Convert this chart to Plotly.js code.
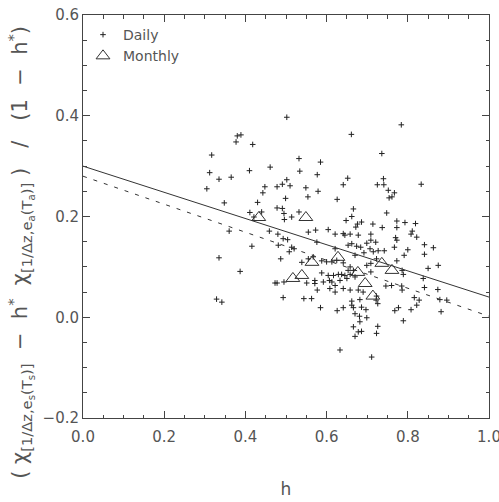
<!DOCTYPE html>
<html>
<head>
<meta charset="utf-8">
<script src="https://cdn.plot.ly/plotly-3.0.1.min.js"></script>
<style>html,body{margin:0;padding:0;background:#fff;}#chart{width:499px;height:502px;}</style>
</head>
<body>
<div id="chart"></div>
<script>
// Daily values (h, y)
const dailyH = [
0.502,0.380,0.389,0.377,0.418,0.317,0.532,0.585,0.312,0.410,0.461,0.534,0.577,0.335,0.365,0.502,0.491,0.478,0.448,0.510,
0.549,0.305,0.579,0.443,0.554,0.499,0.348,0.430,0.478,0.491,
0.784,0.661,0.736,0.652,0.740,0.641,0.725,0.741,0.833,0.752,0.767,0.626,0.754,0.761,0.666,
0.411,0.440,0.495,0.421,0.496,0.514,0.532,0.360,0.459,0.480,0.493,0.504,0.416,0.481,0.514,0.520,0.508,0.335,0.487,0.387,
0.473,0.478,0.495,0.329,0.342,0.493,
0.662,0.648,0.686,0.676,0.714,0.672,0.604,0.573,0.555,0.641,0.645,0.658,0.621,0.678,0.709,0.709,0.699,0.662,0.653,0.674,
0.684,0.576,0.707,0.621,0.692,0.670,0.715,0.567,0.555,0.588,0.600,0.613,0.625,0.539,0.641,0.658,0.666,0.653,0.699,0.709,
0.588,0.604,0.617,0.629,0.637,0.645,0.658,0.670,0.709,0.607,0.592,0.571,0.613,0.633,0.650,0.621,0.571,0.551,0.608,0.641,
0.658,0.577,0.621,0.678,0.690,0.544,0.563,0.662,0.682,0.662,0.666,0.641,0.686,0.697,0.585,0.626,0.670,0.699,0.681,0.682,
0.666,0.678,0.670,0.686,0.633,0.711,
0.748,0.773,0.793,0.819,0.737,0.773,0.811,0.808,0.822,0.770,0.773,0.721,0.841,0.863,0.767,0.800,0.727,0.742,0.841,0.791,
0.773,0.723,0.875,0.850,0.786,0.789,0.838,0.746,0.760,0.785,0.786,0.841,0.874,0.723,0.722,0.726,0.816,0.828,0.879,0.896,
0.777,0.768,0.808,0.822,0.882,0.789,0.726,0.723
];
const dailyY = [
0.397,0.360,0.362,0.348,0.343,0.322,0.315,0.308,0.287,0.291,0.298,0.290,0.283,0.274,0.278,0.273,0.264,0.259,0.259,0.261,
0.257,0.255,0.250,0.247,0.239,0.236,0.227,0.228,0.217,0.216,
0.382,0.363,0.325,0.276,0.275,0.263,0.263,0.263,0.264,0.252,0.247,0.234,0.237,0.239,0.215,
0.208,0.209,0.206,0.199,0.194,0.199,0.209,0.171,0.171,0.165,0.156,0.154,0.141,0.143,0.139,0.136,0.130,0.118,0.116,0.091,
0.068,0.068,0.070,0.036,0.030,0.039,
0.200,0.192,0.189,0.185,0.185,0.179,0.174,0.173,0.169,0.166,0.163,0.165,0.165,0.163,0.165,0.153,0.147,0.146,0.143,0.141,
0.139,0.149,0.136,0.136,0.128,0.123,0.130,0.120,0.116,0.112,0.110,0.110,0.113,0.109,0.108,0.100,0.093,0.093,0.103,0.107,
0.088,0.083,0.083,0.085,0.085,0.083,0.085,0.080,0.090,0.073,0.070,0.073,0.070,0.073,0.077,0.063,0.067,0.068,0.057,0.057,
0.054,0.054,0.050,0.054,0.050,0.037,0.037,0.032,0.035,0.024,0.019,0.019,0.020,0.015,0.019,0.013,0.007,-0.001,0.002,-0.009,
-0.019,-0.029,-0.038,-0.028,-0.065,-0.079,
0.207,0.191,0.188,0.186,0.178,0.178,0.171,0.165,0.159,0.158,0.153,0.149,0.144,0.138,0.139,0.134,0.132,0.132,0.125,0.123,
0.112,0.116,0.103,0.097,0.093,0.085,0.077,0.062,0.063,0.062,0.054,0.059,0.055,0.042,0.034,0.027,0.039,0.034,0.035,0.034,
0.019,0.013,0.015,0.024,0.011,-0.007,-0.018,-0.032
];
// Monthly values
const monthlyH = [0.433,0.549,0.517,0.539,0.564,0.628,0.677,0.695,0.714,0.736,0.761];
const monthlyY = [0.198,0.198,0.077,0.083,0.109,0.119,0.089,0.067,0.042,0.107,0.093];
// Fit lines
const fitH = [0.0, 1.0];
const fitSolidY = [0.300, 0.040];
const fitDashedY = [0.280, 0.002];
// Tick labels
const xTicks = [0.0, 0.2, 0.4, 0.6, 0.8, 1.0];
const xTickText = ['0.0', '0.2', '0.4', '0.6', '0.8', '1.0'];
const yTicks = [-0.2, 0.0, 0.2, 0.4, 0.6];
const yTickText = ['\u22120.2', '0.0', '0.2', '0.4', '0.6'];

const ink = '#222';
const axisCol = '#444';
const textCol = '#555';
const fontFam = 'DejaVu Sans, sans-serif';

const traces = [
  {x: dailyH, y: dailyY, type: 'scatter', mode: 'markers', name: 'Daily',
   marker: {symbol: 'cross-thin', size: 4, color: ink, line: {width: 1, color: ink}}},
  {x: monthlyH, y: monthlyY, type: 'scatter', mode: 'markers', name: 'Monthly',
   marker: {symbol: 'triangle-up-open', size: 12, color: '#333', line: {width: 1, color: '#333'}}},
  {x: fitH, y: fitSolidY, type: 'scatter', mode: 'lines', showlegend: false,
   line: {color: '#333', width: 1}},
  {x: fitH, y: fitDashedY, type: 'scatter', mode: 'lines', showlegend: false,
   line: {color: '#333', width: 1, dash: '4px,7px'}}
];

const axisCommon = {
  showgrid: false, zeroline: false, showline: true, linecolor: axisCol, linewidth: 1,
  mirror: 'allticks', ticks: 'inside', ticklen: 7, tickwidth: 1, tickcolor: axisCol,
  tickfont: {family: fontFam, size: 15, color: textCol},
  tickmode: 'array', ticklabeloverflow: 'allow',
  minor: {ticks: 'inside', ticklen: 3.5, dtick: 0.05, tickcolor: axisCol, tickwidth: 1}
};

const layout = {
  width: 499, height: 502,
  margin: {l: 83, r: 10, t: 15, b: 84},
  paper_bgcolor: '#fff', plot_bgcolor: '#fff',
  showlegend: true,
  legend: {x: 0, y: 0.99, xanchor: 'left', yanchor: 'top', bgcolor: 'rgba(0,0,0,0)',
           font: {family: fontFam, size: 14, color: textCol}, tracegroupgap: 0},
  xaxis: Object.assign({}, axisCommon, {
    range: [0, 1], tickvals: xTicks, ticktext: xTickText, ticklabelstandoff: 5,
    title: {text: 'h', font: {family: fontFam, size: 17, color: textCol}, standoff: 38}
  }),
  yaxis: Object.assign({}, axisCommon, {
    range: [-0.2, 0.6], tickvals: yTicks, ticktext: yTickText
  }),
  annotations: [{
    xref: 'paper', yref: 'paper', x: -0.155, y: 0.41, xanchor: 'center', yanchor: 'middle',
    textangle: -90, showarrow: false,
    font: {family: fontFam, size: 21, color: textCol},
    text: '(\u00a0χ<sub>[1/Δz,e<sub>s</sub>(T<sub>s</sub>)]</sub>\u00a0\u00a0−\u00a0\u00a0h<sup>*</sup>\u00a0\u00a0χ<sub>[1/Δz,e<sub>a</sub>(T<sub>a</sub>)]</sub>\u00a0)\u00a0\u00a0\u00a0/\u00a0\u00a0\u00a0(1\u00a0\u00a0−\u00a0\u00a0h<sup>*</sup>)'
  }]
};

Plotly.newPlot('chart', traces, layout, {displayModeBar: false, staticPlot: true});
</script>
</body>
</html>
